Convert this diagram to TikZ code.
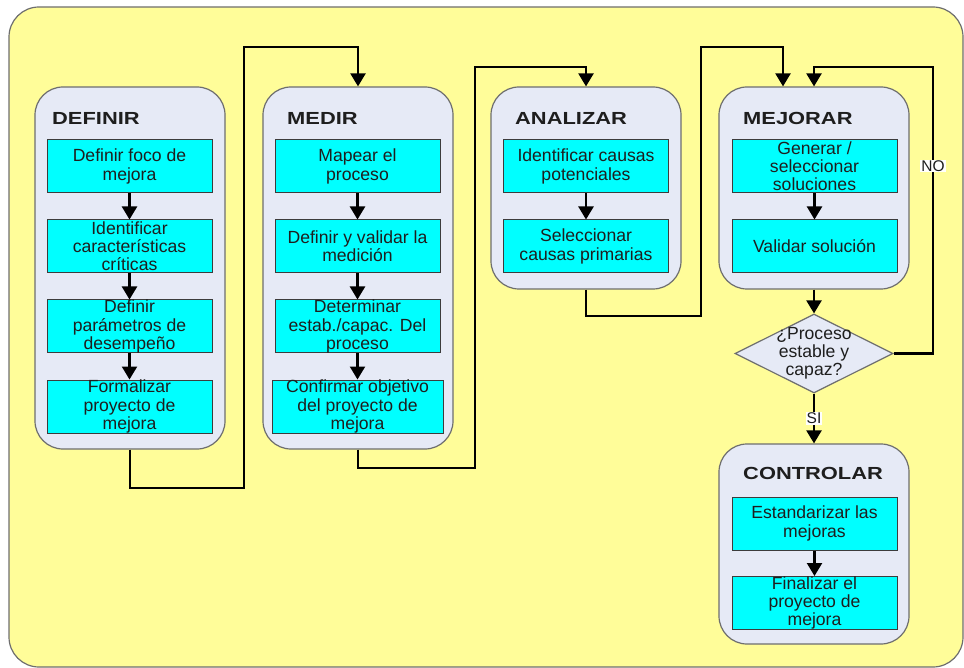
\documentclass[tikz,border=0pt]{standalone}
\usepackage{fontspec}
\usepackage{graphicx}
\setmainfont{Liberation Sans}
\usetikzlibrary{arrows.meta,shapes.geometric}

\definecolor{bgyellow}{RGB}{255,253,153}
\definecolor{stagefill}{RGB}{230,234,246}
\definecolor{stageline}{RGB}{110,110,110}
\definecolor{taskfill}{RGB}{0,255,255}
\definecolor{taskline}{RGB}{60,60,60}
\definecolor{ink}{RGB}{30,30,30}

\tikzset{
  stage/.style={draw=stageline, line width=1.2pt, fill=stagefill,
    rounded corners=28pt, minimum width=190pt, inner sep=0pt},
  task/.style={draw=taskline, line width=1pt, fill=taskfill, text=ink,
    minimum width=165pt, minimum height=53pt, inner sep=0pt,
    align=center, font=\fontsize{17.6}{18.2}\selectfont},
  title/.style={anchor=west, inner sep=0pt, text=ink,
    font=\fontsize{17.5}{20}\selectfont\bfseries},
  conn/.style={line width=2.3pt, black, -{Triangle[width=15pt,length=13pt]}},
  tag/.style={fill=white, inner sep=1pt, text=ink,
    font=\fontsize{15.5}{16}\selectfont},
}

\newcommand{\stagetitle}[1]{\scalebox{1.25}[1]{#1}}

\begin{document}
\begin{tikzpicture}[x=1pt,y=-1pt]
  \useasboundingbox (0,0) rectangle (964,668);
  % yellow panel
  \draw[draw=stageline, line width=1.2pt, fill=bgyellow, rounded corners=30pt]
    (9,7) rectangle (963,667);

  % phase containers
  \node[stage, minimum height=362pt] (def) at (130,268) {};
  \node[stage, minimum height=362pt] (med) at (358,268) {};
  \node[stage, minimum height=202pt] (ana) at (586,188) {};
  \node[stage, minimum height=202pt] (mej) at (814,188) {};
  \node[stage, minimum height=200pt] (ctl) at (814,544) {};

  % phase titles
  \node[title] (tdef) at (52,118) {\stagetitle{DEFINIR}};
  \node[title] (tmed) at (287,118) {\stagetitle{MEDIR}};
  \node[title] (tana) at (515,118) {\stagetitle{ANALIZAR}};
  \node[title] (tmej) at (743,118) {\stagetitle{MEJORAR}};
  \node[title] (tctl) at (743,473) {\stagetitle{CONTROLAR}};

  % DEFINIR tasks
  \node[task] (d1) at (129.5,166.5) {Definir foco de\\mejora};
  \node[task] (d2) at (129.5,246.5) {Identificar\\características\\críticas};
  \node[task] (d3) at (129.5,326.5) {Definir\\parámetros de\\desempeño};
  \node[task] (d4) at (129.5,406.5) {Formalizar\\proyecto de\\mejora};

  % MEDIR tasks
  \node[task] (m1) at (357.5,166.5) {Mapear el\\proceso};
  \node[task] (m2) at (357.5,246.5) {Definir y validar la\\medición};
  \node[task] (m3) at (357.5,326.5) {Determinar\\estab./capac. Del\\proceso};
  \node[task, minimum width=171pt] (m4) at (357.5,406.5) {Confirmar objetivo\\del proyecto de\\mejora};

  % ANALIZAR tasks
  \node[task] (a1) at (586,166.5) {Identificar causas\\potenciales};
  \node[task] (a2) at (586,246.5) {Seleccionar\\causas primarias};

  % MEJORAR tasks
  \node[task] (j1) at (814.5,166.5) {Generar /\\seleccionar\\soluciones};
  \node[task] (j2) at (814.5,246.5) {Validar solución};

  % decision
  \node[draw=stageline, line width=1.2pt, fill=stagefill, shape=diamond,
        minimum width=158pt, minimum height=79pt, inner sep=0pt,
        label={[text=ink, align=center, font=\fontsize{17.6}{18.2}\selectfont]center:{¿Proceso\\estable y\\capaz?}}]
        (dia) at (814,353.5) {};

  % CONTROLAR tasks
  \node[task] (c1) at (814.5,523.5) {Estandarizar las\\mejoras};
  \node[task] (c2) at (814.5,603) {Finalizar el\\proyecto de\\mejora};

  % arrows inside the phases
  \foreach \a/\b in {d1/d2,d2/d3,d3/d4,m1/m2,m2/m3,m3/m4,a1/a2,j1/j2,c1/c2}
    \draw[conn] (\a.south) -- (\b.north);

  % routing points between phases
  \coordinate (r1a) at (244,488);
  \coordinate (r1b) at (358,47);
  \coordinate (r2a) at (475,468);
  \coordinate (r2b) at (586,67);
  \coordinate (r3a) at (701,316);
  \coordinate (r3b) at (783,47);
  \coordinate (r4)  at (933,67);

  % links between phases
  \draw[conn] (def.south) |- (r1a) |- (r1b) -- (med.north);
  \draw[conn] (med.south) |- (r2a) |- (r2b) -- (ana.north);
  \draw[conn] (ana.south) |- (r3a) |- (r3b) -- (r3b |- mej.north);
  \draw[conn] (mej.south) -- (dia.north);
  \draw[conn] (dia.south) -- node[tag] {SI} (ctl.north);
  \draw[conn] (dia.east) -| (r4) -| (mej.north);
  \node[tag] (no) at (933,166) {NO};
\end{tikzpicture}
\end{document}
